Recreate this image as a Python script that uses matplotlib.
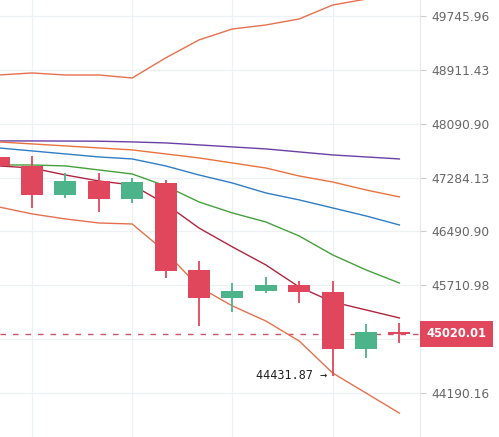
import numpy as np
import matplotlib.pyplot as plt
from matplotlib.ticker import FixedLocator, NullLocator

# candle data (oldest first)
opens = [47592, 47450, 47028, 47234, 46969, 47204, 45933, 45530, 45630, 45715, 45616, 44806, 45045]
closes = [47458, 47028, 47234, 46969, 47219, 45918, 45530, 45630, 45715, 45616, 44806, 45046, 45020.01]
highs = [47650, 47607, 47353, 47353, 47278, 47249, 46063, 45744, 45831, 45773, 45773, 45158, 45172]
lows = [47400, 46836, 46983, 46777, 46910, 45817, 45131, 45331, 45601, 45458, 44431.87, 44680, 44890]

# indicator lines
upper_band = [48833, 48864, 48833, 48833, 48787, 49095, 49374, 49544, 49606, 49700, 49918, 50011, 50089]
lower_band = [46851, 46748, 46674, 46615, 46600, 46193, 45687, 45416, 45202, 44918, 44470, 44190, 43912]
ma_purple = [47832, 47832, 47830, 47828, 47817, 47802, 47772, 47742, 47712, 47667, 47622, 47592, 47562]
ma_orange = [47817, 47787, 47757, 47727, 47697, 47637, 47577, 47502, 47427, 47308, 47219, 47101, 46998]
ma_blue = [47727, 47682, 47637, 47592, 47562, 47458, 47323, 47204, 47057, 46954, 46836, 46718, 46586]
ma_green = [47472, 47472, 47458, 47398, 47338, 47160, 46924, 46762, 46630, 46425, 46150, 45933, 45744]
ma_red = [47458, 47427, 47323, 47234, 47175, 46895, 46541, 46266, 46005, 45687, 45473, 45359, 45245]

tick_values = [49745.96, 48911.43, 48090.90, 47284.13, 46490.90, 45710.98, 44943.47, 44190.16]
tick_labels = ['49745.96', '48911.43', '48090.90', '47284.13', '46490.90', '45710.98', '', '44190.16']
last_price = 45020.01
low_mark = 44431.87

up_col = '#4db38a'
down_col = '#e0465c'

x = np.arange(len(opens))
o = np.array(opens)
c = np.array(closes)

fig = plt.figure(figsize=(4.99, 4.37), dpi=100)
ax = fig.add_axes([0, 0, 420 / 499, 1])

ax.set_yscale('log')
ax.set_xlim(0.042, 12.617)
ax.set_ylim(43584, 49997)

# grid
for t in tick_values:
    ax.axhline(t, color='#eef1f4', lw=0.9, zorder=0)
for gx in [1, 4, 7, 10]:
    ax.axvline(gx, color='#eef1f4', lw=0.9, zorder=0)

ax.plot(x, upper_band, color='#e4714d', lw=1.0, zorder=2)
ax.plot(x, lower_band, color='#e4714d', lw=1.0, zorder=2)
ax.plot(x, ma_purple, color='#6b3fa6', lw=1.0, zorder=2)
ax.plot(x, ma_orange, color='#e8733f', lw=1.0, zorder=2)
ax.plot(x, ma_blue, color='#2f7dc4', lw=1.0, zorder=2)
ax.plot(x, ma_green, color='#45a03b', lw=1.0, zorder=2)
ax.plot(x, ma_red, color='#b0243f', lw=1.0, zorder=2)

cols = [up_col if cc >= oo else down_col for oo, cc in zip(o, c)]
ax.vlines(x, lows, highs, colors=cols, lw=1.3, zorder=3)
ax.bar(x, np.abs(c - o), bottom=np.minimum(o, c), width=0.66, color=cols, zorder=4)

ax.axhline(last_price, color='#c8556a', lw=1.0, ls=(0, (4, 5)), zorder=1)

ax.annotate(f'{low_mark:.2f} \u2192', xy=(10, low_mark), xytext=(-4, 0),
            textcoords='offset points', ha='right', va='center',
            family='DejaVu Sans Mono', fontsize=8.5, color='#222222', zorder=5)

ax.yaxis.tick_right()
ax.yaxis.set_major_locator(FixedLocator(tick_values))
ax.yaxis.set_major_formatter(plt.FixedFormatter(tick_labels))
ax.yaxis.set_minor_locator(NullLocator())
ax.tick_params(axis='y', length=4, color='#cccccc', labelcolor='#666666',
               labelsize=8.8, pad=4)
ax.set_xticks([])
for s in ['top', 'left', 'bottom']:
    ax.spines[s].set_visible(False)
ax.spines['right'].set_color('#e6e8ea')

ax.annotate(f'{last_price:.2f}', xy=(1.0, last_price), xycoords=ax.get_yaxis_transform(),
            xytext=(4.5, 0), textcoords='offset points',
            ha='left', va='center', color='white', fontsize=8.3, fontweight='bold',
            bbox=dict(boxstyle='square,pad=0.55', fc=down_col, ec='none'),
            annotation_clip=False, zorder=6)

fig.savefig('out.png', dpi=100)
